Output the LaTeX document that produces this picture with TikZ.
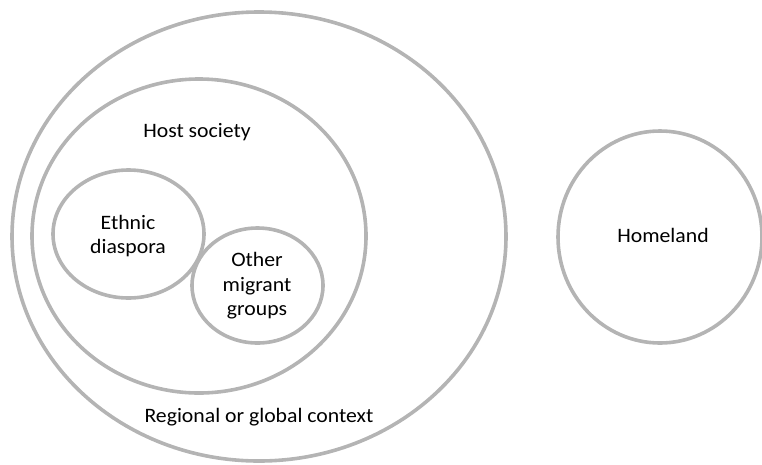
\documentclass[tikz,border=0pt]{standalone}
\usepackage{fontspec}
\setmainfont[FakeStretch=1.06]{Carlito}
\usetikzlibrary{shapes.geometric}
\definecolor{ringgray}{RGB}{180,180,180}
\tikzset{
  ring/.style={ellipse, draw=ringgray, line width=3.6pt, inner sep=0pt, outer sep=0pt},
  lbl/.style={inner sep=0pt, align=center, font=\fontsize{20.5}{24.5}\selectfont, text=black}
}
\begin{document}
\begin{tikzpicture}[x=1pt,y=-1pt]
\useasboundingbox (0,0) rectangle (762,464);
% rings
\node[ring, minimum width=494pt, minimum height=449pt] (regional) at (259,236.5) {};
\node[ring, minimum width=334pt, minimum height=314pt] (host) at (199,236) {};
\node[ring, minimum width=151pt, minimum height=128pt] (ethnic) at (128.5,234) {};
\node[ring, minimum width=131pt, minimum height=115pt] (other) at (257.5,285.5) {};
\node[ring, minimum width=204pt, minimum height=212pt] (homeland) at (660,237) {};
% labels
\node[lbl] (hostlbl) at (197,132) {Host society};
\node[lbl] (ethniclbl) at (128,236) {Ethnic\\diaspora};
\node[lbl] (otherlbl) at (257,286) {Other\\migrant\\groups};
\node[lbl] (regionallbl) at (259,417) {Regional or global context};
\node[lbl] (homelandlbl) at (663,235) {Homeland};
\end{tikzpicture}
\end{document}
